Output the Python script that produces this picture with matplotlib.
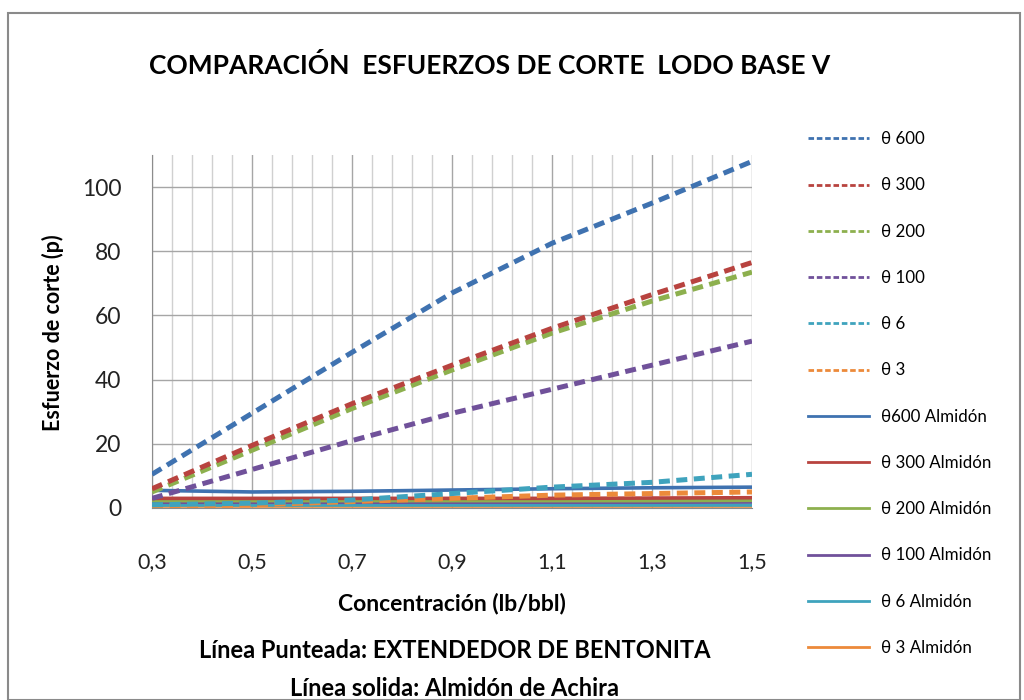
import numpy as np
import matplotlib.pyplot as plt
from matplotlib.lines import Line2D
from matplotlib.patches import Rectangle
from matplotlib.ticker import FuncFormatter

plt.rcParams['font.family'] = ['Lato', 'DejaVu Sans']

# concentracion (lb/bbl)
conc = [0.3, 0.5, 0.7, 0.9, 1.1, 1.3, 1.5]

# extendedor de bentonita (linea punteada)
bent_600 = [10.5, 29.5, 48.5, 67.0, 82.5, 95.0, 108.0]
bent_300 = [6.0, 19.5, 32.5, 44.5, 56.0, 66.5, 76.5]
bent_200 = [5.0, 18.0, 31.0, 43.0, 54.5, 64.5, 73.5]
bent_100 = [3.0, 12.0, 21.0, 29.5, 37.0, 44.5, 52.0]
bent_6 = [1.0, 1.5, 2.5, 4.5, 6.5, 8.0, 10.5]
bent_3 = [0.5, 1.0, 2.0, 3.0, 4.0, 4.5, 5.0]

# almidon de achira (linea solida)
alm_600 = [5.5, 5.0, 5.2, 5.6, 6.0, 6.3, 6.5]
alm_300 = [3.0, 3.0, 3.0, 3.0, 3.0, 3.1, 3.2]
alm_200 = [2.3, 2.3, 2.3, 2.3, 2.3, 2.3, 2.4]
alm_100 = [1.8, 1.8, 1.8, 1.8, 1.8, 1.8, 1.9]
alm_6 = [0.9, 0.9, 0.9, 0.9, 0.9, 0.9, 0.9]
alm_3 = [0.5, 0.5, 0.5, 0.5, 0.5, 0.5, 0.5]

labels_bent = ['θ 600', 'θ 300', 'θ 200', 'θ 100', 'θ 6', 'θ 3']
labels_alm = ['θ600 Almidón', 'θ 300 Almidón', 'θ 200 Almidón',
              'θ 100 Almidón', 'θ 6 Almidón', 'θ 3 Almidón']
colors = ['#3f72b0', '#b8433f', '#8db04e', '#70519a', '#3fa3bd', '#ec8a3a']

xticks = [0.3, 0.5, 0.7, 0.9, 1.1, 1.3, 1.5]
yticks = [0, 20, 40, 60, 80, 100]

bent = [bent_600, bent_300, bent_200, bent_100, bent_6, bent_3]
alm = [alm_600, alm_300, alm_200, alm_100, alm_6, alm_3]

fig = plt.figure(figsize=(10.24, 7), dpi=100)
fig.patches.append(Rectangle((8 / 1024, 0.0), 1012 / 1024, 1 - 13 / 700,
                             transform=fig.transFigure, fill=False,
                             edgecolor='#8a8a8a', linewidth=1.5))

ax = fig.add_axes([152 / 1024, 1 - 508 / 700, 600 / 1024, 353 / 700])

for vals, c in zip(alm[::-1], colors[::-1]):
    ax.plot(conc, vals, color=c, lw=2.6, solid_capstyle='butt', zorder=3)
for vals, c in zip(bent[::-1], colors[::-1]):
    ax.plot(conc, vals, color=c, lw=3.6, ls=(0, (2.2, 1.3)), zorder=4)

ax.set_xlim(0.3, 1.5)
ax.set_ylim(0, 110)
ax.set_xticks(xticks)
ax.set_xticks(np.linspace(0.3, 1.5, 31), minor=True)
ax.set_yticks(yticks)
ax.xaxis.set_major_formatter(FuncFormatter(lambda v, p: f'{v:.1f}'.replace('.', ',')))
ax.grid(True, which='major', axis='both', color='#a6a6a6', lw=1.0)
ax.grid(True, which='minor', axis='x', color='#d0d0d0', lw=1.0)
ax.set_axisbelow(True)
for s in ['top', 'right']:
    ax.spines[s].set_visible(False)
for s in ['left', 'bottom']:
    ax.spines[s].set_color('#8c8c8c')
ax.tick_params(axis='y', which='major', length=0, labelsize=16.5, pad=22,
               labelcolor='#222222')
ax.tick_params(axis='x', which='both', length=0, labelsize=15.5, pad=32,
               labelcolor='#222222')

fig.text(490 / 1024, 1 - 65 / 700, 'COMPARACIÓN  ESFUERZOS DE CORTE  LODO BASE V',
         ha='center', va='center', fontsize=19, fontweight='bold')
fig.text(53 / 1024, 1 - 333 / 700, 'Esfuerzo de corte (p)', rotation=90,
         ha='center', va='center', fontsize=15.5, fontweight='bold')
fig.text(452 / 1024, 1 - 603 / 700, 'Concentración (lb/bbl)',
         ha='center', va='center', fontsize=16.5, fontweight='bold')
fig.text(455 / 1024, 1 - 650 / 700, 'Línea Punteada: EXTENDEDOR DE BENTONITA',
         ha='center', va='center', fontsize=17, fontweight='bold')
fig.text(455 / 1024, 1 - 688 / 700, 'Línea solida: Almidón de Achira',
         ha='center', va='center', fontsize=17, fontweight='bold')

handles = [Line2D([], [], color=c, lw=2, ls=(0, (2, 1))) for c in colors]
handles += [Line2D([], [], color=c, lw=2) for c in colors]
fig.legend(handles, labels_bent + labels_alm, loc='upper left',
           bbox_to_anchor=(793 / 1024, 1 - 116 / 700), frameon=False,
           fontsize=12.2, handlelength=3.6, handletextpad=0.7,
           labelspacing=1.785)

fig.savefig('out.png', dpi=100)
